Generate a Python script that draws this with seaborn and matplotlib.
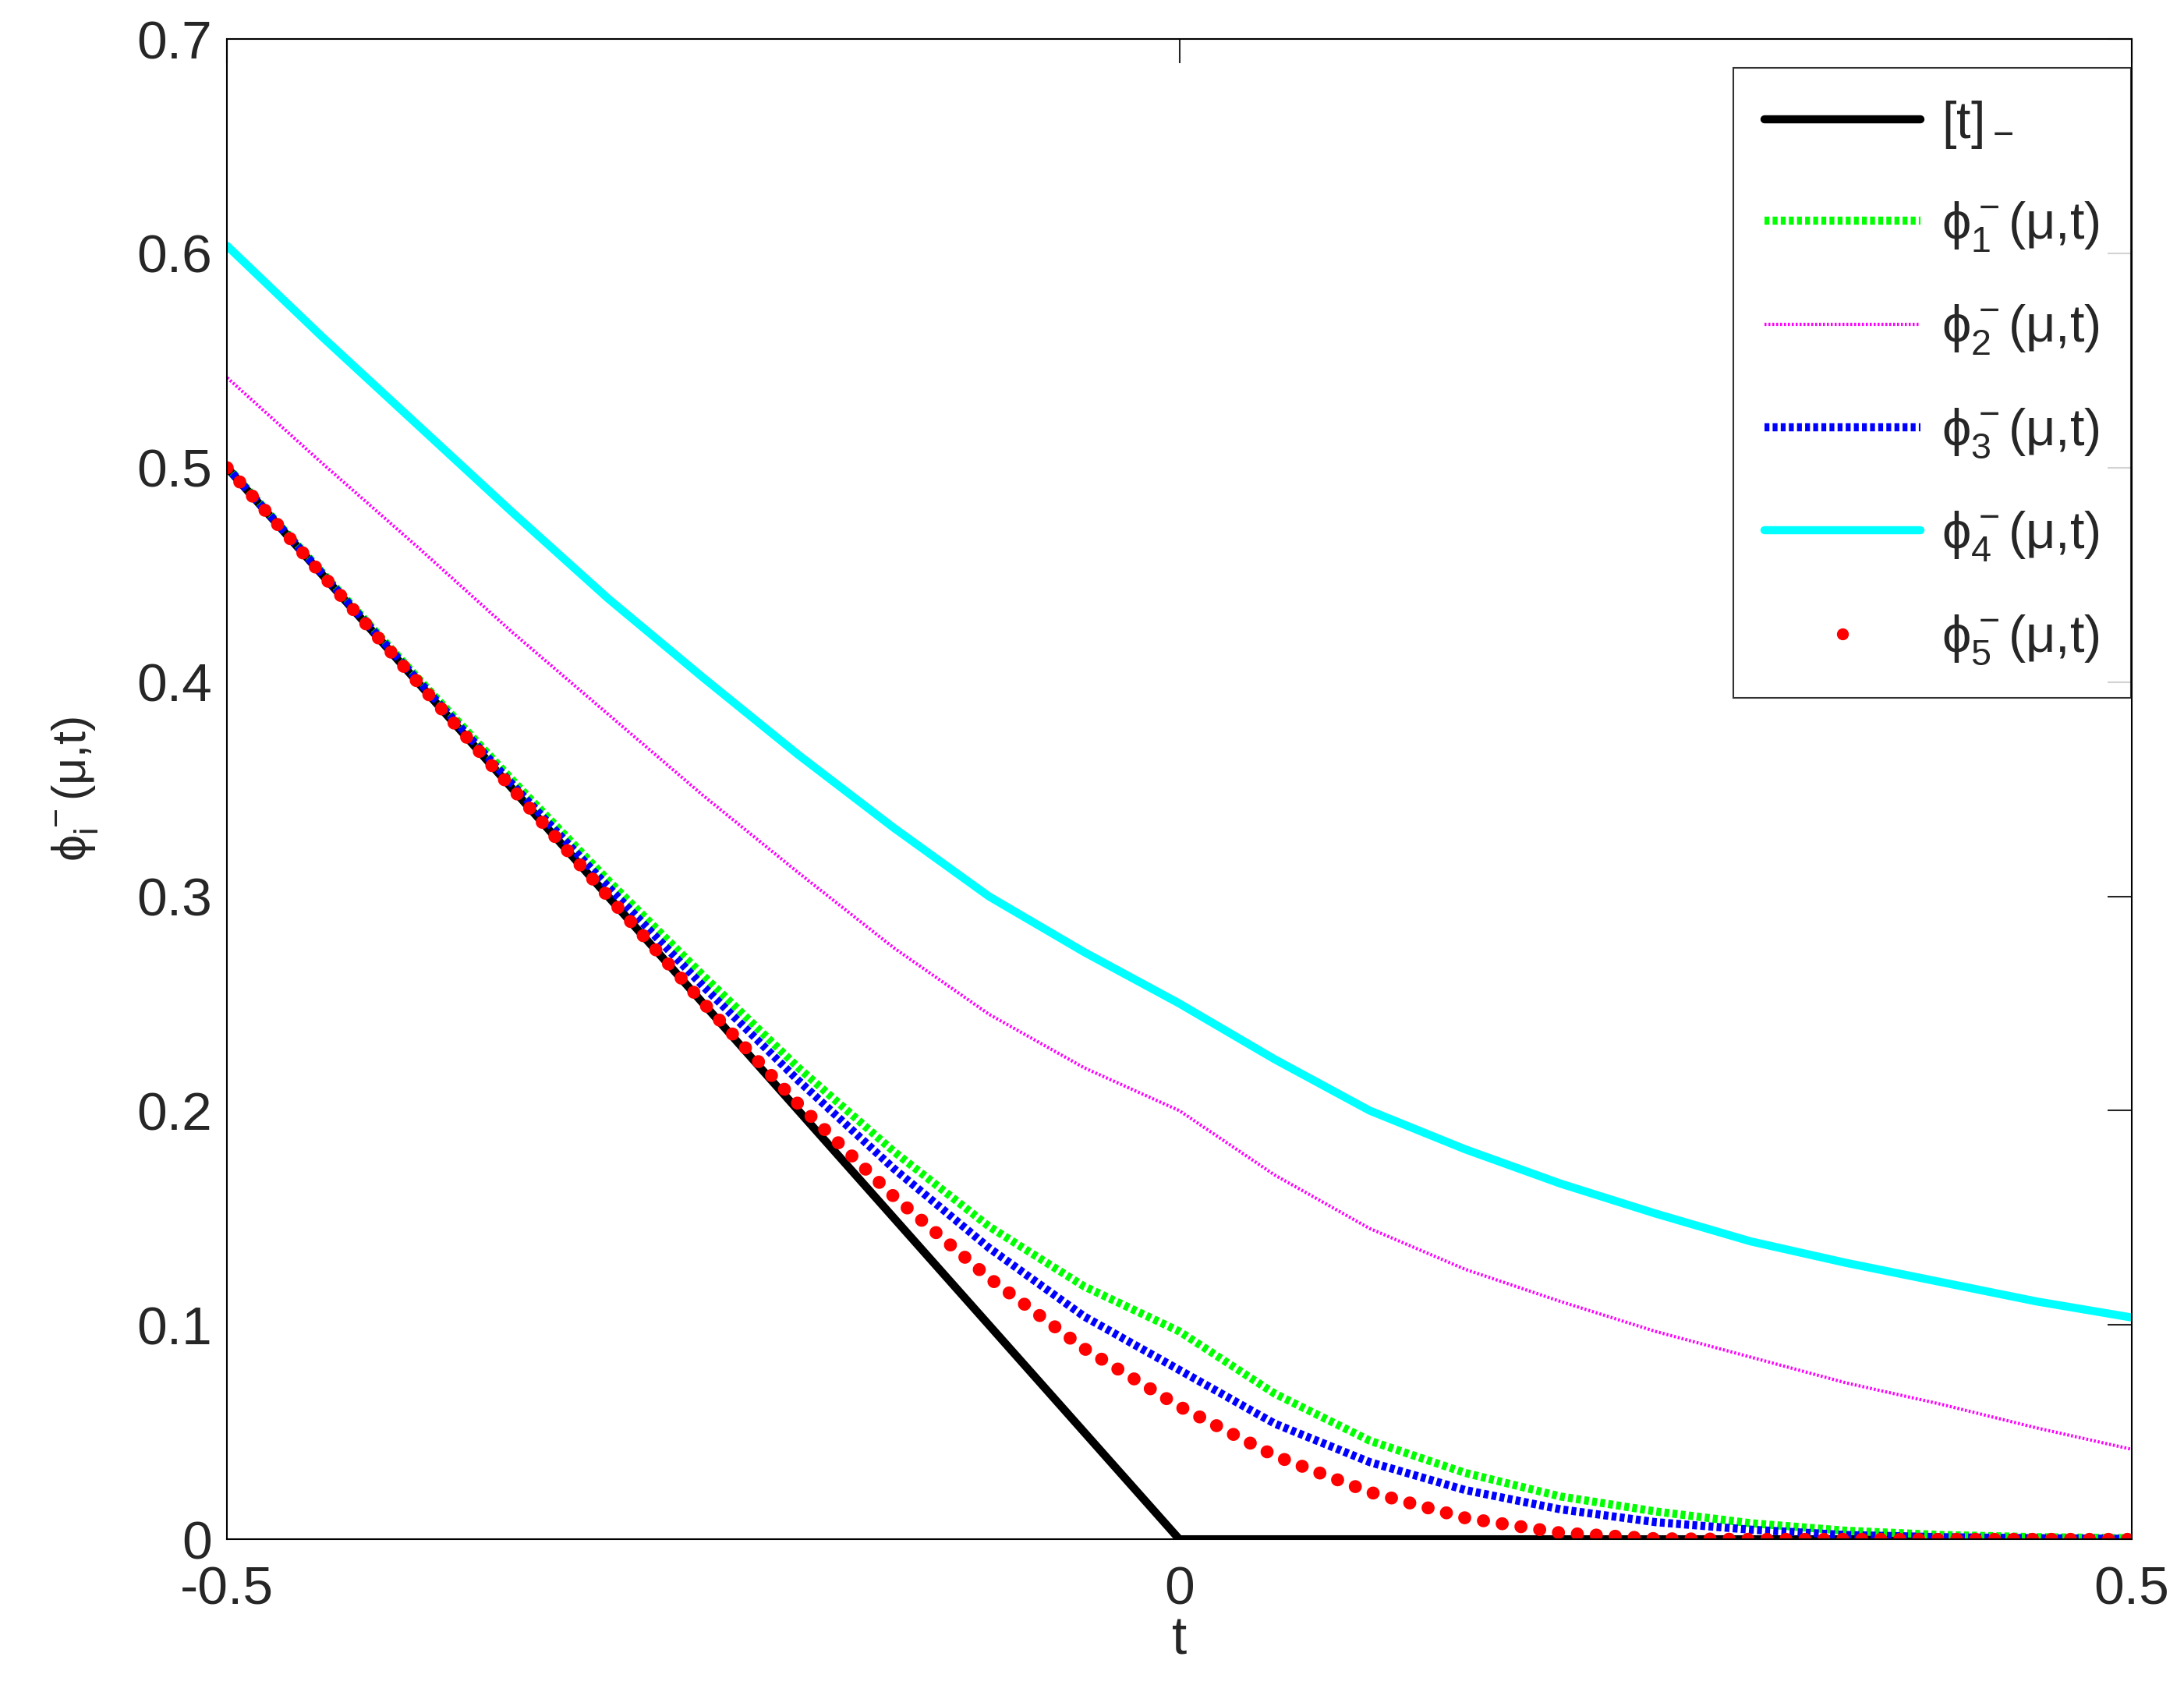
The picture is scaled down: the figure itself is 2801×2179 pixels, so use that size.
import matplotlib
matplotlib.use("Agg")
import matplotlib.pyplot as plt
import seaborn as sns
import numpy as np
from matplotlib.lines import Line2D

# values, t from -0.5 to 0.5 in steps of 0.05
t_vals = [-0.5, -0.45, -0.4, -0.35, -0.3, -0.25, -0.2, -0.15, -0.1, -0.05, 0.0,
          0.05, 0.1, 0.15, 0.2, 0.25, 0.3, 0.35, 0.4, 0.45, 0.5]
t_minus = [0.5, 0.45, 0.4, 0.35, 0.3, 0.25, 0.2, 0.15, 0.1, 0.05, 0.0,
           0, 0, 0, 0, 0, 0, 0, 0, 0, 0]
phi1 = [0.5005, 0.451, 0.402, 0.354, 0.3075, 0.263, 0.220, 0.181, 0.146, 0.118, 0.097,
        0.068, 0.046, 0.031, 0.020, 0.013, 0.0075, 0.004, 0.002, 0.001, 0.0005]
phi2 = [0.542, 0.502, 0.463, 0.423, 0.385, 0.347, 0.311, 0.276, 0.245, 0.220, 0.200,
        0.170, 0.145, 0.126, 0.111, 0.097, 0.085, 0.073, 0.063, 0.052, 0.042]
phi3 = [0.5002, 0.4505, 0.401, 0.352, 0.3045, 0.258, 0.214, 0.173, 0.136, 0.104, 0.079,
        0.054, 0.036, 0.023, 0.014, 0.008, 0.0045, 0.002, 0.001, 0.0005, 0.0002]
phi4 = [0.6035, 0.561, 0.520, 0.479, 0.439, 0.402, 0.366, 0.332, 0.300, 0.274, 0.250,
        0.224, 0.200, 0.182, 0.166, 0.152, 0.139, 0.129, 0.120, 0.111, 0.1035]
phi5 = [0.5, 0.45, 0.4, 0.35, 0.3, 0.2503, 0.203, 0.160, 0.122, 0.089, 0.062,
        0.039, 0.022, 0.010, 0.003, 0.0003, 0, 0, 0, 0, 0]

sns.set_style("white")
plt.rcParams['font.family'] = ['Liberation Sans', 'DejaVu Sans']
plt.rcParams['mathtext.default'] = 'regular'

fig = plt.figure(figsize=(28.01, 21.79), dpi=100)
ax = fig.add_axes([0.104, 0.094, 0.872, 0.883])

lw = 7.5
dots = (0, (0.6, 0.4))
sns.lineplot(x=t_vals, y=t_minus, ax=ax, color='black', lw=lw)
sns.lineplot(x=t_vals, y=phi1, ax=ax, color='#00ff00', lw=lw, linestyle=dots)
sns.lineplot(x=t_vals, y=phi2, ax=ax, color='#ff00ff', lw=3, linestyle=(0, (0.6, 0.6)))
sns.lineplot(x=t_vals, y=phi3, ax=ax, color='#0000ff', lw=lw, linestyle=dots)
sns.lineplot(x=t_vals, y=phi4, ax=ax, color='#00ffff', lw=lw)
sns.lineplot(x=t_vals, y=phi5, ax=ax, color='#ff0000', lw=12,
             linestyle=(0, (0.01, 1.45)), dash_capstyle='round')

ax.set_xlim(-0.5, 0.5)
ax.set_ylim(0, 0.7)
ax.set_xticks([-0.5, 0, 0.5])
ax.set_xticklabels(['-0.5', '0', '0.5'])
ax.set_yticks(np.arange(0, 0.71, 0.1))
ax.set_yticklabels(['0', '0.1', '0.2', '0.3', '0.4', '0.5', '0.6', '0.7'])
ax.tick_params(axis='both', direction='in', length=22, width=1.5, labelsize=50,
               top=True, right=True)
ax.tick_params(axis='x', pad=24)
ax.tick_params(axis='y', pad=14)
for s in ax.spines.values():
    s.set_visible(True)
    s.set_color('black')
    s.set_linewidth(1.5)
ax.set_xlabel('t', fontsize=50, labelpad=0)
ax.set_ylabel(r'$\phi^-_i$(μ,t)', fontsize=44, labelpad=34)

handles = [
    Line2D([], [], color='black', lw=lw),
    Line2D([], [], color='#00ff00', lw=lw, linestyle=dots),
    Line2D([], [], color='#ff00ff', lw=3, linestyle=(0, (0.6, 0.6))),
    Line2D([], [], color='#0000ff', lw=lw, linestyle=dots),
    Line2D([], [], color='#00ffff', lw=lw),
    Line2D([], [], color='#ff0000', marker='o', markersize=10, lw=0),
]
labels = [r'[t]$_-$', r'$\phi^-_1$(μ,t)', r'$\phi^-_2$(μ,t)',
          r'$\phi^-_3$(μ,t)', r'$\phi^-_4$(μ,t)', r'$\phi^-_5$(μ,t)']
leg = ax.legend(handles, labels, loc='upper right', fontsize=48, handlelength=3.0,
                labelspacing=0.95, borderpad=0.6, frameon=True, fancybox=False,
                bbox_to_anchor=(0.9995, 0.981), borderaxespad=0, handletextpad=0.4)
leg.get_frame().set_edgecolor('black')
leg.get_frame().set_linewidth(1.5)

fig.savefig('out.png', dpi=100, facecolor='white')
